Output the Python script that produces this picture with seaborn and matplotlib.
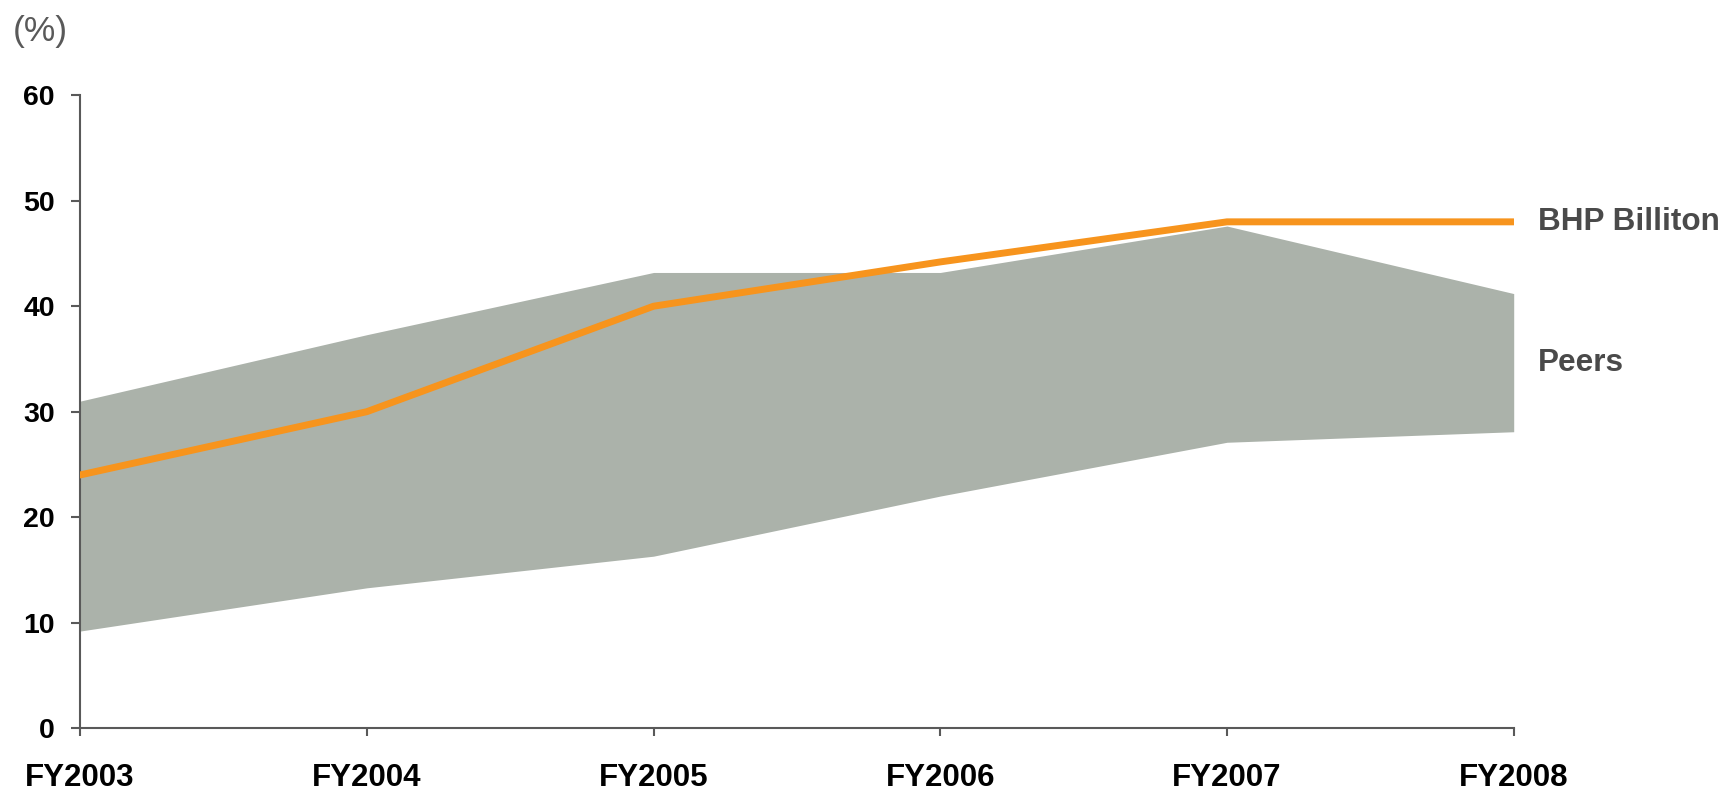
import matplotlib
matplotlib.use("Agg")
import matplotlib.pyplot as plt
import seaborn as sns
import pandas as pd

years = ["FY2003", "FY2004", "FY2005", "FY2006", "FY2007", "FY2008"]
bhp = [24.0, 30.0, 40.0, 44.2, 48.0, 48.0]
peers_high = [31.0, 37.3, 43.2, 43.2, 47.6, 41.2]
peers_low = [9.2, 13.3, 16.3, 22.0, 27.1, 28.1]
y_ticks = [0, 10, 20, 30, 40, 50, 60]

sns.set_theme(style="ticks")
plt.rcParams['font.family'] = ['Liberation Sans', 'DejaVu Sans']

fig = plt.figure(figsize=(17.26, 7.94), dpi=100)
ax = fig.add_axes([0.0464, 0.083, 0.8306, 0.797])

xpos = list(range(len(years)))
df = pd.DataFrame({"x": xpos, "bhp": bhp})

ax.fill_between(xpos, peers_low, peers_high, color="#abb2aa", linewidth=0, zorder=1)
sns.lineplot(data=df, x="x", y="bhp", ax=ax, color="#f7941d", linewidth=5.0,
             solid_capstyle="round", zorder=3)

ax.set_xlim(0, len(years) - 1)
ax.set_ylim(0, 60)
ax.set_xticks(xpos)
ax.set_xticklabels(years, fontsize=22.5, fontweight="bold", color="black")
ax.set_yticks(y_ticks)
ax.set_yticklabels([str(v) for v in y_ticks], fontsize=20.5, fontweight="bold", color="black")
ax.set_xlabel("")
ax.set_ylabel("")

for side in ["top", "right"]:
    ax.spines[side].set_visible(False)
for side in ["left", "bottom"]:
    ax.spines[side].set_color("#595959")
    ax.spines[side].set_linewidth(1.5)
ax.tick_params(axis="y", length=6.8, width=1.5, color="#595959", pad=11.5)
ax.tick_params(axis="x", length=5.8, width=1.5, color="#595959", pad=19)

ax.text(1.0167, 48, "BHP Billiton", transform=ax.get_yaxis_transform(), fontsize=22.7,
        fontweight="bold", color="#4a4a4a", va="center", ha="left")
ax.text(1.0167, 34.6, "Peers", transform=ax.get_yaxis_transform(), fontsize=22.7,
        fontweight="bold", color="#4a4a4a", va="center", ha="left")
fig.text(13 / 1726, 1 - 32 / 794, "(%)", fontsize=25.5, color="#595959", va="center", ha="left")

fig.savefig("out.png", dpi=100)
